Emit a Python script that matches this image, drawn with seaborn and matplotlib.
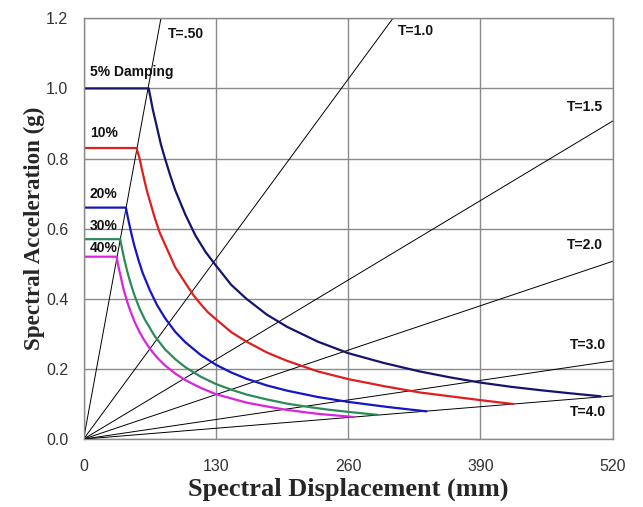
import matplotlib
matplotlib.use("Agg")
import matplotlib.pyplot as plt
import seaborn as sns
import pandas as pd

# ---- data ----
damping_labels = ["5% Damping", "10%", "20%", "30%", "40%"]
damping_colors = ["#14146e", "#e01e1e", "#1414c8", "#2e8b57", "#dd22dd"]

sd_5 = [0, 64, 68, 72, 76, 80, 85, 90, 95, 100, 110, 120, 130, 145, 160, 180,
        200, 230, 260, 295, 330, 360, 390, 420, 450, 480, 508]
sa_5 = [1.00, 1.00, 0.94, 0.89, 0.84, 0.80, 0.753, 0.71, 0.675, 0.64, 0.58,
        0.533, 0.495, 0.44, 0.40, 0.355, 0.32, 0.278, 0.245, 0.217, 0.193,
        0.176, 0.161, 0.149, 0.139, 0.130, 0.122]

sd_10 = [0, 52, 55, 58, 62, 65, 70, 75, 80, 90, 100, 108, 115, 122, 130, 145,
         160, 180, 200, 230, 260, 295, 330, 360, 390, 422]
sa_10 = [0.83, 0.83, 0.80, 0.76, 0.71, 0.68, 0.63, 0.587, 0.555, 0.49, 0.445,
         0.41, 0.385, 0.362, 0.342, 0.305, 0.278, 0.247, 0.223, 0.193, 0.171,
         0.151, 0.133, 0.122, 0.111, 0.100]

sd_20 = [0, 41.5, 44, 47, 50, 54, 58, 65, 72, 80, 90, 100, 115, 130, 145, 160,
         180, 200, 230, 260, 300, 337]
sa_20 = [0.66, 0.66, 0.625, 0.585, 0.55, 0.51, 0.474, 0.425, 0.383, 0.345,
         0.306, 0.276, 0.24, 0.212, 0.19, 0.172, 0.153, 0.138, 0.12, 0.106,
         0.091, 0.079]

sd_30 = [0, 36, 38, 40, 43, 46, 50, 55, 60, 70, 80, 90, 100, 115, 130, 145,
         160, 180, 200, 220, 240, 265, 289]
sa_30 = [0.57, 0.57, 0.54, 0.513, 0.477, 0.446, 0.41, 0.372, 0.342, 0.293,
         0.256, 0.228, 0.205, 0.178, 0.157, 0.141, 0.127, 0.113, 0.101, 0.092,
         0.084, 0.076, 0.069]

sd_40 = [0, 32.5, 34, 36, 38, 40, 43, 46, 50, 55, 60, 65, 72, 80, 90, 100,
         115, 130, 145, 160, 180, 200, 230, 265]
sa_40 = [0.52, 0.52, 0.495, 0.47, 0.443, 0.42, 0.39, 0.365, 0.335, 0.305,
         0.28, 0.258, 0.233, 0.21, 0.187, 0.168, 0.146, 0.128, 0.116, 0.104,
         0.093, 0.083, 0.072, 0.063]

curves_sd = [sd_5, sd_10, sd_20, sd_30, sd_40]
curves_sa = [sa_5, sa_10, sa_20, sa_30, sa_40]
label_sa = [1.047, 0.873, 0.70, 0.607, 0.545]

period_labels = ["T=.50", "T=1.0", "T=1.5", "T=2.0", "T=3.0", "T=4.0"]
period_end_sd = [76, 304, 520, 520, 520, 520]
period_end_sa = [1.2, 1.2, 0.907, 0.507, 0.223, 0.123]
period_label_sd = [82.5, 309, 474.5, 474.5, 478, 478]
period_label_sa = [1.154, 1.164, 0.946, 0.554, 0.269, 0.078]

x_ticks = [0, 130, 260, 390, 520]
y_ticks = [0.0, 0.2, 0.4, 0.6, 0.8, 1.0, 1.2]

# ---- plot ----
sns.set_style("white")
plt.rcParams["font.family"] = ["Liberation Sans", "DejaVu Sans"]

fig = plt.figure(figsize=(6.43, 5.07), dpi=100)
ax = fig.add_axes([0.130, 0.134, 0.823, 0.830])

grid_c = "#8a8a8a"
ax.set_xlim(0, 520)
ax.set_ylim(0, 1.2)
ax.set_xticks(x_ticks)
ax.set_yticks(y_ticks)
ax.set_xticklabels([str(v) for v in x_ticks])
ax.set_yticklabels([f"{v:.1f}" for v in y_ticks])
ax.grid(True, color=grid_c, lw=1.0)
ax.set_axisbelow(True)
for s in ax.spines.values():
    s.set_color(grid_c)
    s.set_linewidth(1.0)
ax.tick_params(axis="both", direction="out", length=5, width=1.0,
               color=grid_c, labelsize=11.5, labelcolor="#333333", pad=6)
ax.tick_params(axis="x", pad=9)

# constant-period radial lines
for lab, xe, ye, lx, ly in zip(period_labels, period_end_sd, period_end_sa,
                               period_label_sd, period_label_sa):
    df = pd.DataFrame({"sd": [0, xe], "sa": [0, ye]})
    sns.lineplot(data=df, x="sd", y="sa", ax=ax, color="black", lw=0.7,
                 estimator=None, sort=False, legend=False)
    ax.text(lx, ly, lab, fontsize=10, fontweight="bold", ha="left",
            va="center", color="#111111")

# damping curves
for lab, c, xs, ys, ly in zip(damping_labels, damping_colors, curves_sd,
                              curves_sa, label_sa):
    df = pd.DataFrame({"sd": xs, "sa": ys})
    sns.lineplot(data=df, x="sd", y="sa", ax=ax, color=c, lw=1.6,
                 estimator=None, sort=False, legend=False)
    ax.text(6.2, ly, lab, fontsize=10, fontweight="bold", ha="left",
            va="center", color="#111111")

ax.set_xlabel("Spectral Displacement (mm)", fontsize=19, fontweight="bold",
              family=["Liberation Serif", "DejaVu Serif"], labelpad=3)
ax.set_ylabel("Spectral Acceleration (g)", fontsize=16.6, fontweight="bold",
              family=["Liberation Serif", "DejaVu Serif"], labelpad=1)

fig.savefig("out.png", dpi=100)
